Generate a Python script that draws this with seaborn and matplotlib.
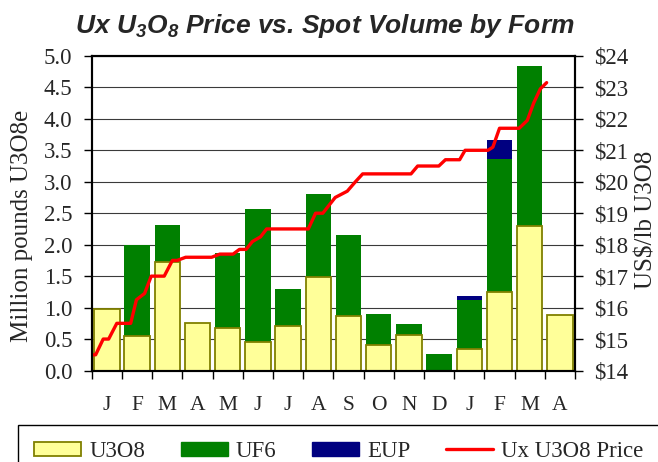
import numpy as np
import pandas as pd
import matplotlib
matplotlib.use("Agg")
import matplotlib.pyplot as plt
import seaborn as sns
from matplotlib.patches import Patch
from matplotlib.lines import Line2D
from matplotlib.ticker import FuncFormatter, FixedLocator, MultipleLocator

# ---- data ----
months = ["J", "F", "M", "A", "M", "J", "J", "A", "S", "O", "N", "D", "J", "F", "M", "A"]
u3o8 = [0.98, 0.55, 1.73, 0.75, 0.67, 0.45, 0.71, 1.48, 0.87, 0.40, 0.56, 0.00, 0.34, 1.25, 2.29, 0.89]
uf6 = [0.00, 1.45, 0.59, 0.00, 1.20, 2.12, 0.59, 1.32, 1.29, 0.50, 0.18, 0.27, 0.78, 2.11, 2.55, 0.00]
eup = [0.00, 0.00, 0.00, 0.00, 0.00, 0.00, 0.00, 0.00, 0.00, 0.00, 0.00, 0.00, 0.07, 0.31, 0.00, 0.00]

# price: time in months since start of first January, and $/lb
price_t = [0.02, 0.13, 0.38, 0.56, 0.83, 1.29, 1.48, 1.75, 1.97, 2.40, 2.67, 2.83, 3.11, 3.97,
           4.24, 4.68, 4.89, 5.11, 5.32, 5.59, 5.79, 7.17, 7.41, 7.65, 8.06, 8.46, 8.73, 8.97,
           10.57, 10.79, 11.49, 11.71, 12.18, 12.36, 13.12, 13.28, 13.50, 14.15, 14.42, 14.63,
           14.85, 15.06]
price = [14.5, 14.5, 15.0, 15.0, 15.5, 15.5, 16.25, 16.45, 17.0, 17.0, 17.5, 17.5, 17.6, 17.6,
         17.7, 17.7, 17.85, 17.85, 18.1, 18.25, 18.5, 18.5, 19.0, 19.0, 19.5, 19.7, 20.0, 20.25,
         20.25, 20.5, 20.5, 20.7, 20.7, 21.0, 21.0, 21.1, 21.7, 21.7, 21.95, 22.5, 22.95, 23.15]

pos = np.arange(len(months))
df = pd.DataFrame({"pos": pos, "u3o8": u3o8, "uf6": uf6, "eup": eup})
df["lvl2"] = df["u3o8"] + df["uf6"]
df["lvl3"] = df["lvl2"] + df["eup"]
pdf = pd.DataFrame({"pos": np.array(price_t) - 0.5, "price": price})

# ---- style ----
sns.set_style("ticks")
plt.rcParams["font.family"] = ["Liberation Serif", "DejaVu Serif"]
plt.rcParams["mathtext.fontset"] = "custom"
plt.rcParams["mathtext.rm"] = "Liberation Sans:italic:bold"
plt.rcParams["mathtext.it"] = "Liberation Sans:italic:bold"
plt.rcParams["mathtext.bf"] = "Liberation Sans:italic:bold"

YELLOW = "#FFFF99"
OLIVE = "#808000"
GREEN = "#008000"
NAVY = "#000080"
FS = 16.5
LFS = 18

fig = plt.figure(figsize=(6.58, 4.62), dpi=100)
ax = fig.add_axes([0.1394, 0.198, 0.7345, 0.681])

W = 0.84
sns.barplot(data=df, x="pos", y="lvl3", native_scale=True, width=W, color=NAVY,
            saturation=1, linewidth=0, errorbar=None, ax=ax)
sns.barplot(data=df, x="pos", y="lvl2", native_scale=True, width=W, color=GREEN,
            saturation=1, linewidth=0, errorbar=None, ax=ax)
sns.barplot(data=df, x="pos", y="u3o8", native_scale=True, width=W, color=YELLOW,
            saturation=1, edgecolor=OLIVE, linewidth=1.3, errorbar=None, ax=ax)

ax.set_xlim(-0.5, len(months) - 0.5)
ax.set_ylim(0, 5.0)
ax.yaxis.set_major_locator(MultipleLocator(0.5))
ax.yaxis.set_major_formatter(FuncFormatter(lambda v, p: f"{v:.1f}"))
ax.grid(axis="y", color="#3a3a3a", linewidth=0.8)
ax.grid(axis="x", visible=False)
ax.set_axisbelow(True)
ax.set_xticks(pos)
ax.set_xticklabels(months)
ax.xaxis.set_minor_locator(FixedLocator(np.arange(len(months) + 1) - 0.5))
ax.tick_params(axis="x", which="major", length=0, pad=18, labelsize=FS - 1)
ax.tick_params(axis="x", which="minor", length=6, width=1, direction="out", color="black")
ax.tick_params(axis="y", length=6, width=1, direction="out", labelsize=FS, pad=8, color="black")
ax.set_xlabel("")
ax.set_ylabel("")
for s in ax.spines.values():
    s.set_color("black")
    s.set_linewidth(1.5)

ax2 = ax.twinx()
sns.lineplot(data=pdf, x="pos", y="price", color="#FF0000", linewidth=2.4,
             estimator=None, ax=ax2)
ax2.set_ylim(14, 24)
ax2.yaxis.set_major_locator(MultipleLocator(1))
ax2.yaxis.set_major_formatter(FuncFormatter(lambda v, p: f"\\${v:.0f}"))
ax2.tick_params(axis="y", length=6, width=1, direction="out", labelsize=FS, pad=8, color="black")
ax2.set_ylabel("")
ax2.set_xlim(-0.5, len(months) - 0.5)
ax2.set_xlabel("")
for s in ax2.spines.values():
    s.set_color("black")
    s.set_linewidth(1.5)

# axis titles
fig.text(22 / 658, 1 - 226 / 462, "Million pounds U3O8e", rotation=90,
         ha="center", va="center", fontsize=LFS)
fig.text(647 / 658, 1 - 220 / 462, "US$/lb U3O8", rotation=90,
         ha="center", va="center", fontsize=LFS)

fig.text(0.494, 0.943, r"Ux U$_3$O$_8$ Price vs. Spot Volume by Form",
         family="Liberation Sans", style="italic", weight="bold", fontsize=19,
         ha="center", va="center")

handles = [Patch(facecolor=YELLOW, edgecolor=OLIVE, linewidth=1.3),
           Patch(facecolor=GREEN, edgecolor=GREEN),
           Patch(facecolor=NAVY, edgecolor=NAVY),
           Line2D([0], [0], color="#FF0000", linewidth=2.4)]
labels = ["U3O8", "UF6", "EUP", "Ux U3O8 Price"]
LEGFS = 16.5
leg = fig.legend(handles, labels, ncol=4, loc="upper left",
                 bbox_to_anchor=(18 / 658, 1 - 425 / 462), fontsize=LEGFS,
                 frameon=True, fancybox=False, edgecolor="black", framealpha=1,
                 handlelength=2.05, handleheight=0.62, handletextpad=0.36,
                 columnspacing=1.55, borderpad=0.7, borderaxespad=0)
leg.get_frame().set_linewidth(1.0)

fig.savefig("out.png", dpi=100)
